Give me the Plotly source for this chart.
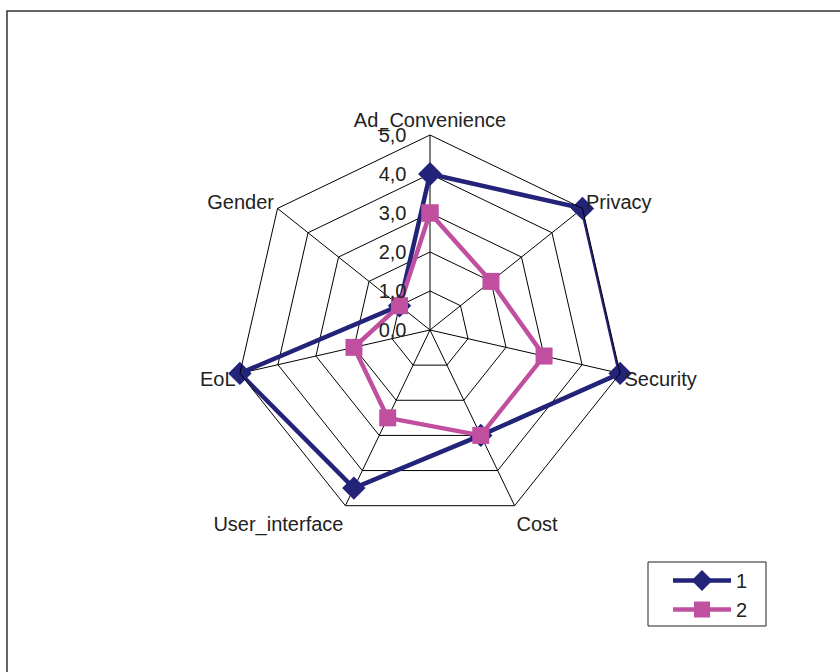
import plotly.graph_objects as go

categories = ["Ad_Convenience", "Privacy", "Security", "Cost", "User_interface", "EoL", "Gender"]
series_1 = [4.0, 5.0, 5.0, 3.0, 4.5, 5.0, 1.0]
series_2 = [3.0, 2.0, 3.0, 3.0, 2.5, 2.0, 1.0]
radial_ticks = [0, 1, 2, 3, 4, 5]
radial_tick_text = ["0,0", "1,0", "2,0", "3,0", "4,0", "5,0"]

W, H = 840, 672
cx, cy, R = 430, 330, 195

NAVY = "#23237A"
PINK = "#C0509F"

fig = go.Figure()
fig.add_trace(go.Scatterpolar(
    r=series_1 + series_1[:1], theta=categories + categories[:1],
    mode="lines+markers", name="1",
    line=dict(color=NAVY, width=4.5),
    marker=dict(symbol="diamond", size=18, color=NAVY),
))
fig.add_trace(go.Scatterpolar(
    r=series_2 + series_2[:1], theta=categories + categories[:1],
    mode="lines+markers", name="2",
    line=dict(color=PINK, width=4.5),
    marker=dict(symbol="square", size=17, color=PINK),
))

font = dict(family="Liberation Sans, Arial, sans-serif", size=20, color="#222222")

fig.update_layout(
    width=W, height=H,
    margin=dict(l=0, r=0, t=0, b=0),
    paper_bgcolor="white", plot_bgcolor="white",
    font=font,
    polar=dict(
        domain=dict(x=[(cx - R) / W, (cx + R) / W],
                    y=[(H - cy - R) / H, (H - cy + R) / H]),
        gridshape="linear",
        bgcolor="white",
        angularaxis=dict(
            rotation=90, direction="clockwise",
            showline=True, linecolor="black", linewidth=1,
            gridcolor="black", gridwidth=1,
            ticks="", tickfont=font,
        ),
        radialaxis=dict(
            range=[0, 5], angle=90, tickangle=90,
            tickvals=radial_ticks, ticktext=radial_tick_text,
            showline=False, gridcolor="black", gridwidth=1,
            ticks="outside", ticklen=16, tickcolor="rgba(0,0,0,0)",
            tickfont=font, side="counterclockwise",
        ),
    ),
    legend=dict(
        x=668 / W, y=1 - 561 / H, xanchor="left", yanchor="top",
        borderwidth=0, bgcolor="rgba(0,0,0,0)",
        font=font, tracegroupgap=0, itemwidth=58,
    ),
    shapes=[
        dict(type="rect", xref="paper", yref="paper",
             x0=7 / W, x1=1.01, y0=-0.01, y1=1 - 11 / H,
             line=dict(color="#333333", width=1.5)),
        dict(type="rect", xref="paper", yref="paper",
             x0=648 / W, x1=766 / W, y0=1 - 626 / H, y1=1 - 562 / H,
             line=dict(color="#222222", width=1)),
    ],
)

fig.write_html("out.html")
